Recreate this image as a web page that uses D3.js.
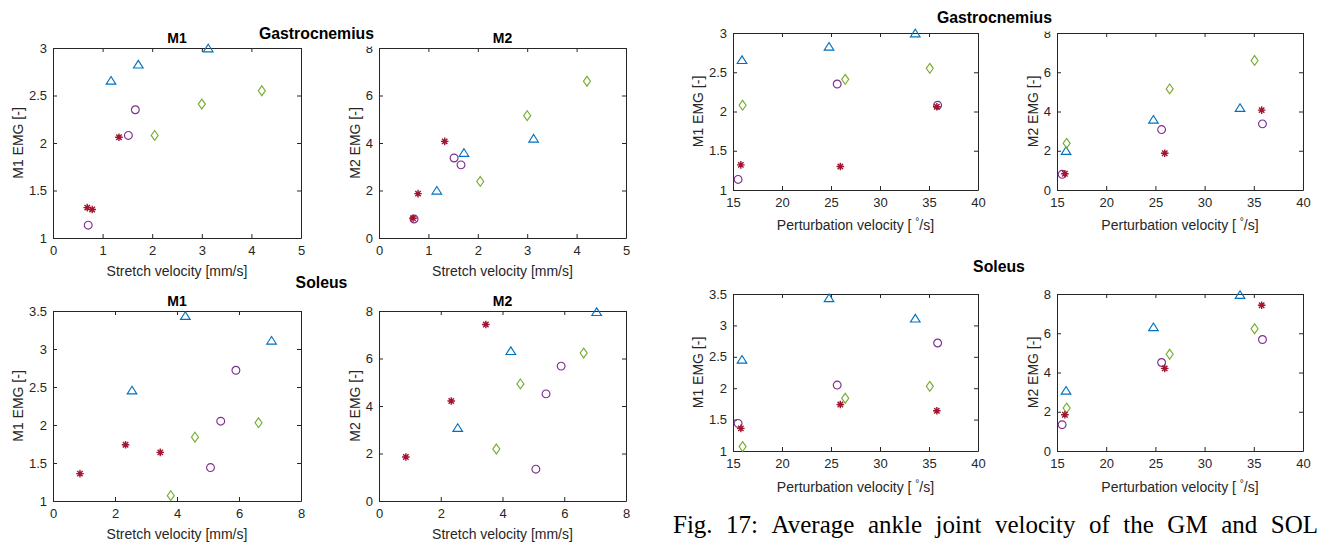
<!DOCTYPE html>
<html>
<head>
<meta charset="utf-8">
<script src="https://cdn.jsdelivr.net/npm/d3@7"></script>
<style>
  body { margin: 0; background: #fff; }
  svg { display: block; }
</style>
</head>
<body>
<div id="chart"></div>
<script>
// one marker group per subject: triangle, diamond, circle, star
var markerTypes = ["triangle", "diamond", "circle", "star"];
var markerColors = ["#0072BD", "#77AC30", "#7E2F8E", "#A2142F"];

// perturbation velocity [deg/s], same for both muscles
var pertVel = [[15.92, 24.80, 33.60], [15.98, 26.45, 35.08], [15.52, 25.63, 35.88], [15.80, 25.95, 35.80]];

// gastrocnemius
var gmStretch = [[1.17, 1.72, 3.13], [2.05, 3.00, 4.21], [0.71, 1.66, 1.52], [0.69, 0.79, 1.33]];
var gmM1 = [[2.66, 2.83, 3.00], [2.08, 2.41, 2.55], [1.135, 2.35, 2.08], [1.32, 1.30, 2.06]];
var gmM2 = [[2.01, 3.60, 4.20], [2.38, 5.15, 6.60], [0.80, 3.08, 3.37], [0.83, 1.87, 4.07]];

// soleus
var solStretch = [[2.55, 4.27, 7.05], [3.80, 4.58, 6.63], [5.08, 5.41, 5.90], [0.87, 2.34, 3.46]];
var solM1 = [[2.46, 3.44, 3.115], [1.07, 1.84, 2.03], [1.44, 2.05, 2.72], [1.36, 1.74, 1.64]];
var solM2 = [[3.09, 6.33, 7.97], [2.19, 4.93, 6.23], [1.34, 4.51, 5.68], [1.85, 4.21, 7.43]];

// ticks
var ticksGmStretch = [0, 1, 2, 3, 4, 5];
var ticksSolStretch = [0, 2, 4, 6, 8];
var ticksPert = [15, 20, 25, 30, 35, 40];
var ticksGmM1 = [1, 1.5, 2, 2.5, 3];
var ticksSolM1 = [1, 1.5, 2, 2.5, 3, 3.5];
var ticksM2 = [0, 2, 4, 6, 8];

var W = 1320, H = 542;
var axisColor = "#262626";
var font = "'Liberation Sans', Arial, Helvetica, sans-serif";

var svg = d3.select("#chart").append("svg")
  .attr("width", W).attr("height", H)
  .style("background", "#fff");

// panel layout
var panels = [
  // left half: stretch velocity
  {x: 53, y: 48, w: 248, h: 190, xs: gmStretch, ys: gmM1, xDom: [0, 5], yDom: [1, 3], xt: ticksGmStretch, yt: ticksGmM1,
   title: "M1", xlab: "Stretch velocity [mm/s]", ylab: "M1 EMG [-]", xlabOff: 37.5},
  {x: 379, y: 48, w: 247, h: 190, xs: gmStretch, ys: gmM2, xDom: [0, 5], yDom: [0, 8], xt: ticksGmStretch, yt: ticksM2,
   title: "M2", xlab: "Stretch velocity [mm/s]", ylab: "M2 EMG [-]", xlabOff: 37.5, cover: true},
  {x: 53, y: 311, w: 248, h: 190, xs: solStretch, ys: solM1, xDom: [0, 8], yDom: [1, 3.5], xt: ticksSolStretch, yt: ticksSolM1,
   title: "M1", xlab: "Stretch velocity [mm/s]", ylab: "M1 EMG [-]", xlabOff: 37.5},
  {x: 379, y: 311, w: 247, h: 190, xs: solStretch, ys: solM2, xDom: [0, 8], yDom: [0, 8], xt: ticksSolStretch, yt: ticksM2,
   title: "M2", xlab: "Stretch velocity [mm/s]", ylab: "M2 EMG [-]", xlabOff: 37.5},
  // right half: perturbation velocity
  {x: 733, y: 33, w: 245, h: 157, xs: pertVel, ys: gmM1, xDom: [15, 40], yDom: [1, 3], xt: ticksPert, yt: ticksGmM1,
   xlab: "pert", ylab: "M1 EMG [-]", xlabOff: 39.5},
  {x: 1057, y: 33, w: 246, h: 157, xs: pertVel, ys: gmM2, xDom: [15, 40], yDom: [0, 8], xt: ticksPert, yt: ticksM2,
   xlab: "pert", ylab: "M2 EMG [-]", xlabOff: 39.5, cover: true},
  {x: 733, y: 294, w: 245, h: 157, xs: pertVel, ys: solM1, xDom: [15, 40], yDom: [1, 3.5], xt: ticksPert, yt: ticksSolM1,
   xlab: "pert", ylab: "M1 EMG [-]", xlabOff: 40.5},
  {x: 1057, y: 294, w: 246, h: 157, xs: pertVel, ys: solM2, xDom: [15, 40], yDom: [0, 8], xt: ticksPert, yt: ticksM2,
   xlab: "pert", ylab: "M2 EMG [-]", xlabOff: 40.5}
];

var markerPath = {
  triangle: "M0,-3.8L4.8,3.8L-4.8,3.8Z",
  diamond: "M0,-4.9L3.5,0L0,4.9L-3.5,0Z",
  circle: d3.arc()({innerRadius: 0, outerRadius: 3.9, startAngle: 0, endAngle: 2 * Math.PI}),
  star: "M-3.8,0H3.8M0,-3.8V3.8M-2.7,-2.7L2.7,2.7M-2.7,2.7L2.7,-2.7"
};

function styleAxis(sel) {
  sel.attr("color", axisColor)
    .attr("font-family", font)
    .attr("font-size", 13);
  sel.selectAll("path.domain").attr("stroke-width", 1);
  sel.selectAll(".tick line").attr("stroke-width", 1);
  sel.selectAll("text").attr("fill", axisColor);
}

panels.forEach(function(p) {
  var g = svg.append("g").attr("transform", "translate(" + p.x + "," + p.y + ")");
  var x = d3.scaleLinear().domain(p.xDom).range([0, p.w]);
  var y = d3.scaleLinear().domain(p.yDom).range([p.h, 0]);
  var fmt = d3.format("~g");

  g.append("g").attr("transform", "translate(0," + p.h + ")")
    .call(d3.axisBottom(x).tickValues(p.xt).tickSizeInner(-4).tickSizeOuter(0).tickPadding(8).tickFormat(fmt))
    .call(styleAxis);
  g.append("g")
    .call(d3.axisTop(x).tickValues(p.xt).tickSizeInner(-4).tickSizeOuter(0).tickFormat(""))
    .call(styleAxis);
  var yAx = g.append("g")
    .call(d3.axisLeft(y).tickValues(p.yt).tickSizeInner(-4).tickSizeOuter(0).tickPadding(6).tickFormat(fmt))
    .call(styleAxis);
  g.append("g").attr("transform", "translate(" + p.w + ",0)")
    .call(d3.axisRight(y).tickValues(p.yt).tickSizeInner(-4).tickSizeOuter(0).tickFormat(""))
    .call(styleAxis);

  // suptitle box hides the top of the "8" label
  if (p.cover) {
    g.append("rect").attr("x", -16).attr("y", y(8) - 10).attr("width", 15).attr("height", 8.6).attr("fill", "#fff");
  }

  // y label, placed past the widest tick label
  var maxW = 0;
  yAx.selectAll("text").each(function() { maxW = Math.max(maxW, this.getBBox().width); });
  var off = 6 + maxW + 6;
  g.append("text")
    .attr("transform", "translate(" + (-off) + "," + (p.h / 2) + ") rotate(-90)")
    .attr("text-anchor", "middle")
    .attr("font-family", font).attr("font-size", 14).attr("fill", axisColor)
    .text(p.ylab);

  // x label
  var xl = g.append("text")
    .attr("x", p.w / 2).attr("y", p.h + p.xlabOff)
    .attr("text-anchor", "middle")
    .attr("font-family", font).attr("font-size", 14).attr("fill", axisColor);
  if (p.xlab === "pert") {
    xl.append("tspan").text("Perturbation velocity [ ");
    xl.append("tspan").attr("dy", -5).attr("font-size", 10).text("\u00B0");
    xl.append("tspan").attr("dy", 5).text("/s]");
  } else {
    xl.text(p.xlab);
  }

  if (p.title) {
    g.append("text")
      .attr("x", p.w / 2).attr("y", -5.5)
      .attr("text-anchor", "middle")
      .attr("font-family", font).attr("font-size", 14).attr("font-weight", "bold").attr("fill", "#000")
      .text(p.title);
  }

  // markers
  markerTypes.forEach(function(m, i) {
    var pts = p.xs[i].map(function(v, k) { return [v, p.ys[i][k]]; });
    g.selectAll(".m" + i)
      .data(pts)
      .enter().append("path")
      .attr("class", "m" + i)
      .attr("transform", function(d) { return "translate(" + x(d[0]) + "," + y(d[1]) + ")"; })
      .attr("d", markerPath[m])
      .attr("fill", "none")
      .attr("stroke", markerColors[i])
      .attr("stroke-width", m === "star" ? 1.4 : 1.15);
  });
});

// group titles
var groupTitles = [
  {t: "Gastrocnemius", x: 316.5, y: 38.5},
  {t: "Soleus", x: 321.5, y: 288},
  {t: "Gastrocnemius", x: 994.5, y: 22.7},
  {t: "Soleus", x: 999, y: 271.7}
];
svg.selectAll(".grp")
  .data(groupTitles)
  .enter().append("text")
  .attr("class", "grp")
  .attr("x", function(d) { return d.x; })
  .attr("y", function(d) { return d.y; })
  .attr("text-anchor", "middle")
  .attr("font-family", font).attr("font-size", 15.8).attr("font-weight", "bold")
  .attr("fill", "#000")
  .text(function(d) { return d.t; });

// caption, justified
var captionWords = "Fig. 17: Average ankle joint velocity of the GM and SOL".split(" ");
var capLeft = 673, capRight = 1318, capY = 533;
var cap = svg.append("g")
  .attr("font-family", "'Liberation Serif', 'Times New Roman', serif")
  .attr("font-size", 25).attr("fill", "#000");
var wordEls = captionWords.map(function(w) { return cap.append("text").attr("y", capY).text(w); });
var widths = wordEls.map(function(e) { return e.node().getComputedTextLength(); });
var gap = (capRight - capLeft - d3.sum(widths)) / (captionWords.length - 1);
var cx = capLeft;
wordEls.forEach(function(e, i) { e.attr("x", cx); cx += widths[i] + gap; });
</script>
</body>
</html>
